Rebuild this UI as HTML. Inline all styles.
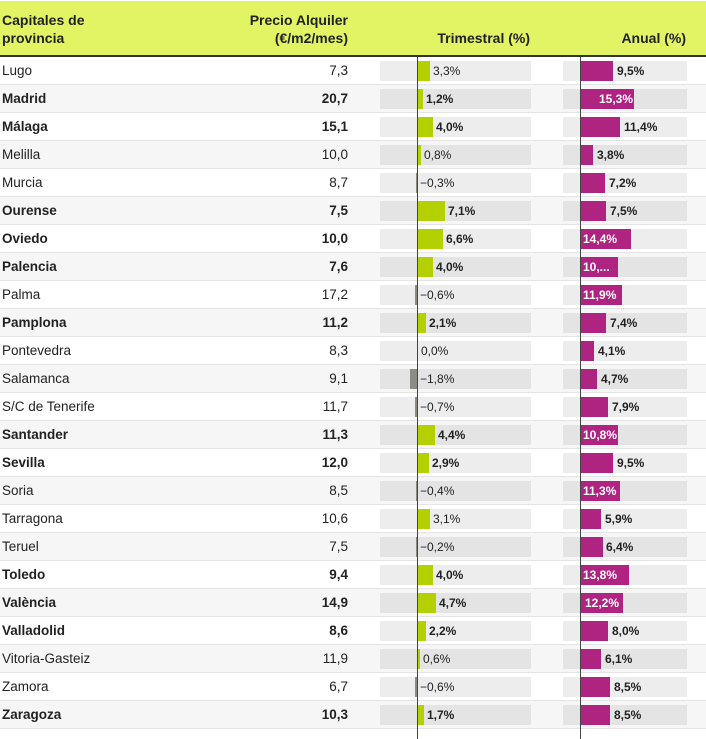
<!DOCTYPE html>
<html><head><meta charset="utf-8"><style>
*{margin:0;padding:0;box-sizing:border-box}
body{width:706px;height:739px;overflow:hidden;background:#fff;font-family:"Liberation Sans",Arial,sans-serif;color:#222;position:relative}
.h{position:absolute;left:0;top:1px;width:706px;height:54px;background:#e2f463}
.hb{position:absolute;left:0;top:55px;width:706px;height:2px;background:#333}
.ht{position:absolute;font-weight:bold;font-size:14px;line-height:18px;color:#222}
.r{position:absolute;left:0;width:706px;height:28px;border-bottom:1px solid #e4e4e4;background:#fff}
.r.g{background:#f6f6f6}
.r span{position:absolute;top:0;line-height:28px;white-space:nowrap}
.n{left:2px;font-size:13.5px}
.p{right:358px;font-size:13.5px}
.b{font-weight:bold}
.tb{position:absolute;left:380px;top:4px;width:151px;height:20px;background:#ededed}
.ab{position:absolute;left:563px;top:4px;width:124px;height:20px;background:#ededed}
.g .tb,.g .ab{background:#e4e4e4}
.tq{position:absolute;left:418px;top:4px;height:20px;background:#b5d000}
.tn{position:absolute;top:4px;height:20px;background:#8e8b86}
.aq{position:absolute;left:580px;top:4px;height:20px;background:#b02481}
.tl{font-size:12px}
.al{font-size:12px;font-weight:bold}
.w{color:#fff}
.z{position:absolute;top:57px;width:1px;height:682px;background:#444}
</style></head><body>
<div class="h"></div>
<div class="ht" style="left:2px;top:11px">Capitales de<br>provincia</div>
<div class="ht" style="right:358px;top:11px;text-align:right">Precio Alquiler<br>(€/m2/mes)</div>
<div class="ht" style="right:176px;top:29px">Trimestral (%)</div>
<div class="ht" style="right:20px;top:29px">Anual (%)</div>
<div class="hb"></div>

<div class="r" style="top:57px"><span class="n">Lugo</span><span class="p">7,3</span><i class="tb"></i><i class="tq" style="width:12px"></i><span class="tl" style="left:433px">3,3%</span><i class="ab"></i><i class="aq" style="width:33px"></i><span class="al" style="left:617px">9,5%</span></div>
<div class="r g" style="top:85px"><span class="n b">Madrid</span><span class="p b">20,7</span><i class="tb"></i><i class="tq" style="width:5px"></i><span class="tl b" style="left:426px">1,2%</span><i class="ab"></i><i class="aq" style="width:54px"></i><span class="al w" style="left:599px">15,3%</span></div>
<div class="r" style="top:113px"><span class="n b">Málaga</span><span class="p b">15,1</span><i class="tb"></i><i class="tq" style="width:15px"></i><span class="tl b" style="left:436px">4,0%</span><i class="ab"></i><i class="aq" style="width:40px"></i><span class="al" style="left:624px">11,4%</span></div>
<div class="r g" style="top:141px"><span class="n">Melilla</span><span class="p">10,0</span><i class="tb"></i><i class="tq" style="width:3px"></i><span class="tl" style="left:424px">0,8%</span><i class="ab"></i><i class="aq" style="width:13px"></i><span class="al" style="left:597px">3,8%</span></div>
<div class="r" style="top:169px"><span class="n">Murcia</span><span class="p">8,7</span><i class="tb"></i><i class="tn" style="left:416px;width:1px"></i><span class="tl" style="left:420px">−0,3%</span><i class="ab"></i><i class="aq" style="width:25px"></i><span class="al" style="left:609px">7,2%</span></div>
<div class="r g" style="top:197px"><span class="n b">Ourense</span><span class="p b">7,5</span><i class="tb"></i><i class="tq" style="width:27px"></i><span class="tl b" style="left:448px">7,1%</span><i class="ab"></i><i class="aq" style="width:26px"></i><span class="al" style="left:610px">7,5%</span></div>
<div class="r" style="top:225px"><span class="n b">Oviedo</span><span class="p b">10,0</span><i class="tb"></i><i class="tq" style="width:25px"></i><span class="tl b" style="left:446px">6,6%</span><i class="ab"></i><i class="aq" style="width:51px"></i><span class="al w" style="left:583px">14,4%</span></div>
<div class="r g" style="top:253px"><span class="n b">Palencia</span><span class="p b">7,6</span><i class="tb"></i><i class="tq" style="width:15px"></i><span class="tl b" style="left:436px">4,0%</span><i class="ab"></i><i class="aq" style="width:38px"></i><span class="al w" style="left:583px">10,...</span></div>
<div class="r" style="top:281px"><span class="n">Palma</span><span class="p">17,2</span><i class="tb"></i><i class="tn" style="left:415px;width:2px"></i><span class="tl" style="left:420px">−0,6%</span><i class="ab"></i><i class="aq" style="width:42px"></i><span class="al w" style="left:583px">11,9%</span></div>
<div class="r g" style="top:309px"><span class="n b">Pamplona</span><span class="p b">11,2</span><i class="tb"></i><i class="tq" style="width:8px"></i><span class="tl b" style="left:429px">2,1%</span><i class="ab"></i><i class="aq" style="width:26px"></i><span class="al" style="left:610px">7,4%</span></div>
<div class="r" style="top:337px"><span class="n">Pontevedra</span><span class="p">8,3</span><i class="tb"></i><span class="tl" style="left:421px">0,0%</span><i class="ab"></i><i class="aq" style="width:14px"></i><span class="al" style="left:598px">4,1%</span></div>
<div class="r g" style="top:365px"><span class="n">Salamanca</span><span class="p">9,1</span><i class="tb"></i><i class="tn" style="left:410px;width:7px"></i><span class="tl" style="left:420px">−1,8%</span><i class="ab"></i><i class="aq" style="width:17px"></i><span class="al" style="left:601px">4,7%</span></div>
<div class="r" style="top:393px"><span class="n">S/C de Tenerife</span><span class="p">11,7</span><i class="tb"></i><i class="tn" style="left:415px;width:2px"></i><span class="tl" style="left:420px">−0,7%</span><i class="ab"></i><i class="aq" style="width:28px"></i><span class="al" style="left:612px">7,9%</span></div>
<div class="r g" style="top:421px"><span class="n b">Santander</span><span class="p b">11,3</span><i class="tb"></i><i class="tq" style="width:17px"></i><span class="tl b" style="left:438px">4,4%</span><i class="ab"></i><i class="aq" style="width:38px"></i><span class="al w" style="left:583px">10,8%</span></div>
<div class="r" style="top:449px"><span class="n b">Sevilla</span><span class="p b">12,0</span><i class="tb"></i><i class="tq" style="width:11px"></i><span class="tl b" style="left:432px">2,9%</span><i class="ab"></i><i class="aq" style="width:33px"></i><span class="al" style="left:617px">9,5%</span></div>
<div class="r g" style="top:477px"><span class="n">Soria</span><span class="p">8,5</span><i class="tb"></i><i class="tn" style="left:416px;width:1px"></i><span class="tl" style="left:420px">−0,4%</span><i class="ab"></i><i class="aq" style="width:40px"></i><span class="al w" style="left:583px">11,3%</span></div>
<div class="r" style="top:505px"><span class="n">Tarragona</span><span class="p">10,6</span><i class="tb"></i><i class="tq" style="width:12px"></i><span class="tl" style="left:433px">3,1%</span><i class="ab"></i><i class="aq" style="width:21px"></i><span class="al" style="left:605px">5,9%</span></div>
<div class="r g" style="top:533px"><span class="n">Teruel</span><span class="p">7,5</span><i class="tb"></i><i class="tn" style="left:416px;width:1px"></i><span class="tl" style="left:420px">−0,2%</span><i class="ab"></i><i class="aq" style="width:23px"></i><span class="al" style="left:606px">6,4%</span></div>
<div class="r" style="top:561px"><span class="n b">Toledo</span><span class="p b">9,4</span><i class="tb"></i><i class="tq" style="width:15px"></i><span class="tl b" style="left:436px">4,0%</span><i class="ab"></i><i class="aq" style="width:49px"></i><span class="al w" style="left:583px">13,8%</span></div>
<div class="r g" style="top:589px"><span class="n b">València</span><span class="p b">14,9</span><i class="tb"></i><i class="tq" style="width:18px"></i><span class="tl b" style="left:439px">4,7%</span><i class="ab"></i><i class="aq" style="width:43px"></i><span class="al w" style="left:585px">12,2%</span></div>
<div class="r" style="top:617px"><span class="n b">Valladolid</span><span class="p b">8,6</span><i class="tb"></i><i class="tq" style="width:8px"></i><span class="tl b" style="left:429px">2,2%</span><i class="ab"></i><i class="aq" style="width:28px"></i><span class="al" style="left:612px">8,0%</span></div>
<div class="r g" style="top:645px"><span class="n">Vitoria-Gasteiz</span><span class="p">11,9</span><i class="tb"></i><i class="tq" style="width:2px"></i><span class="tl" style="left:423px">0,6%</span><i class="ab"></i><i class="aq" style="width:21px"></i><span class="al" style="left:605px">6,1%</span></div>
<div class="r" style="top:673px"><span class="n">Zamora</span><span class="p">6,7</span><i class="tb"></i><i class="tn" style="left:415px;width:2px"></i><span class="tl" style="left:420px">−0,6%</span><i class="ab"></i><i class="aq" style="width:30px"></i><span class="al" style="left:614px">8,5%</span></div>
<div class="r g" style="top:701px"><span class="n b">Zaragoza</span><span class="p b">10,3</span><i class="tb"></i><i class="tq" style="width:6px"></i><span class="tl b" style="left:427px">1,7%</span><i class="ab"></i><i class="aq" style="width:30px"></i><span class="al" style="left:614px">8,5%</span></div>

<div class="z" style="left:417px"></div>
<div class="z" style="left:580px"></div>
</body></html>
